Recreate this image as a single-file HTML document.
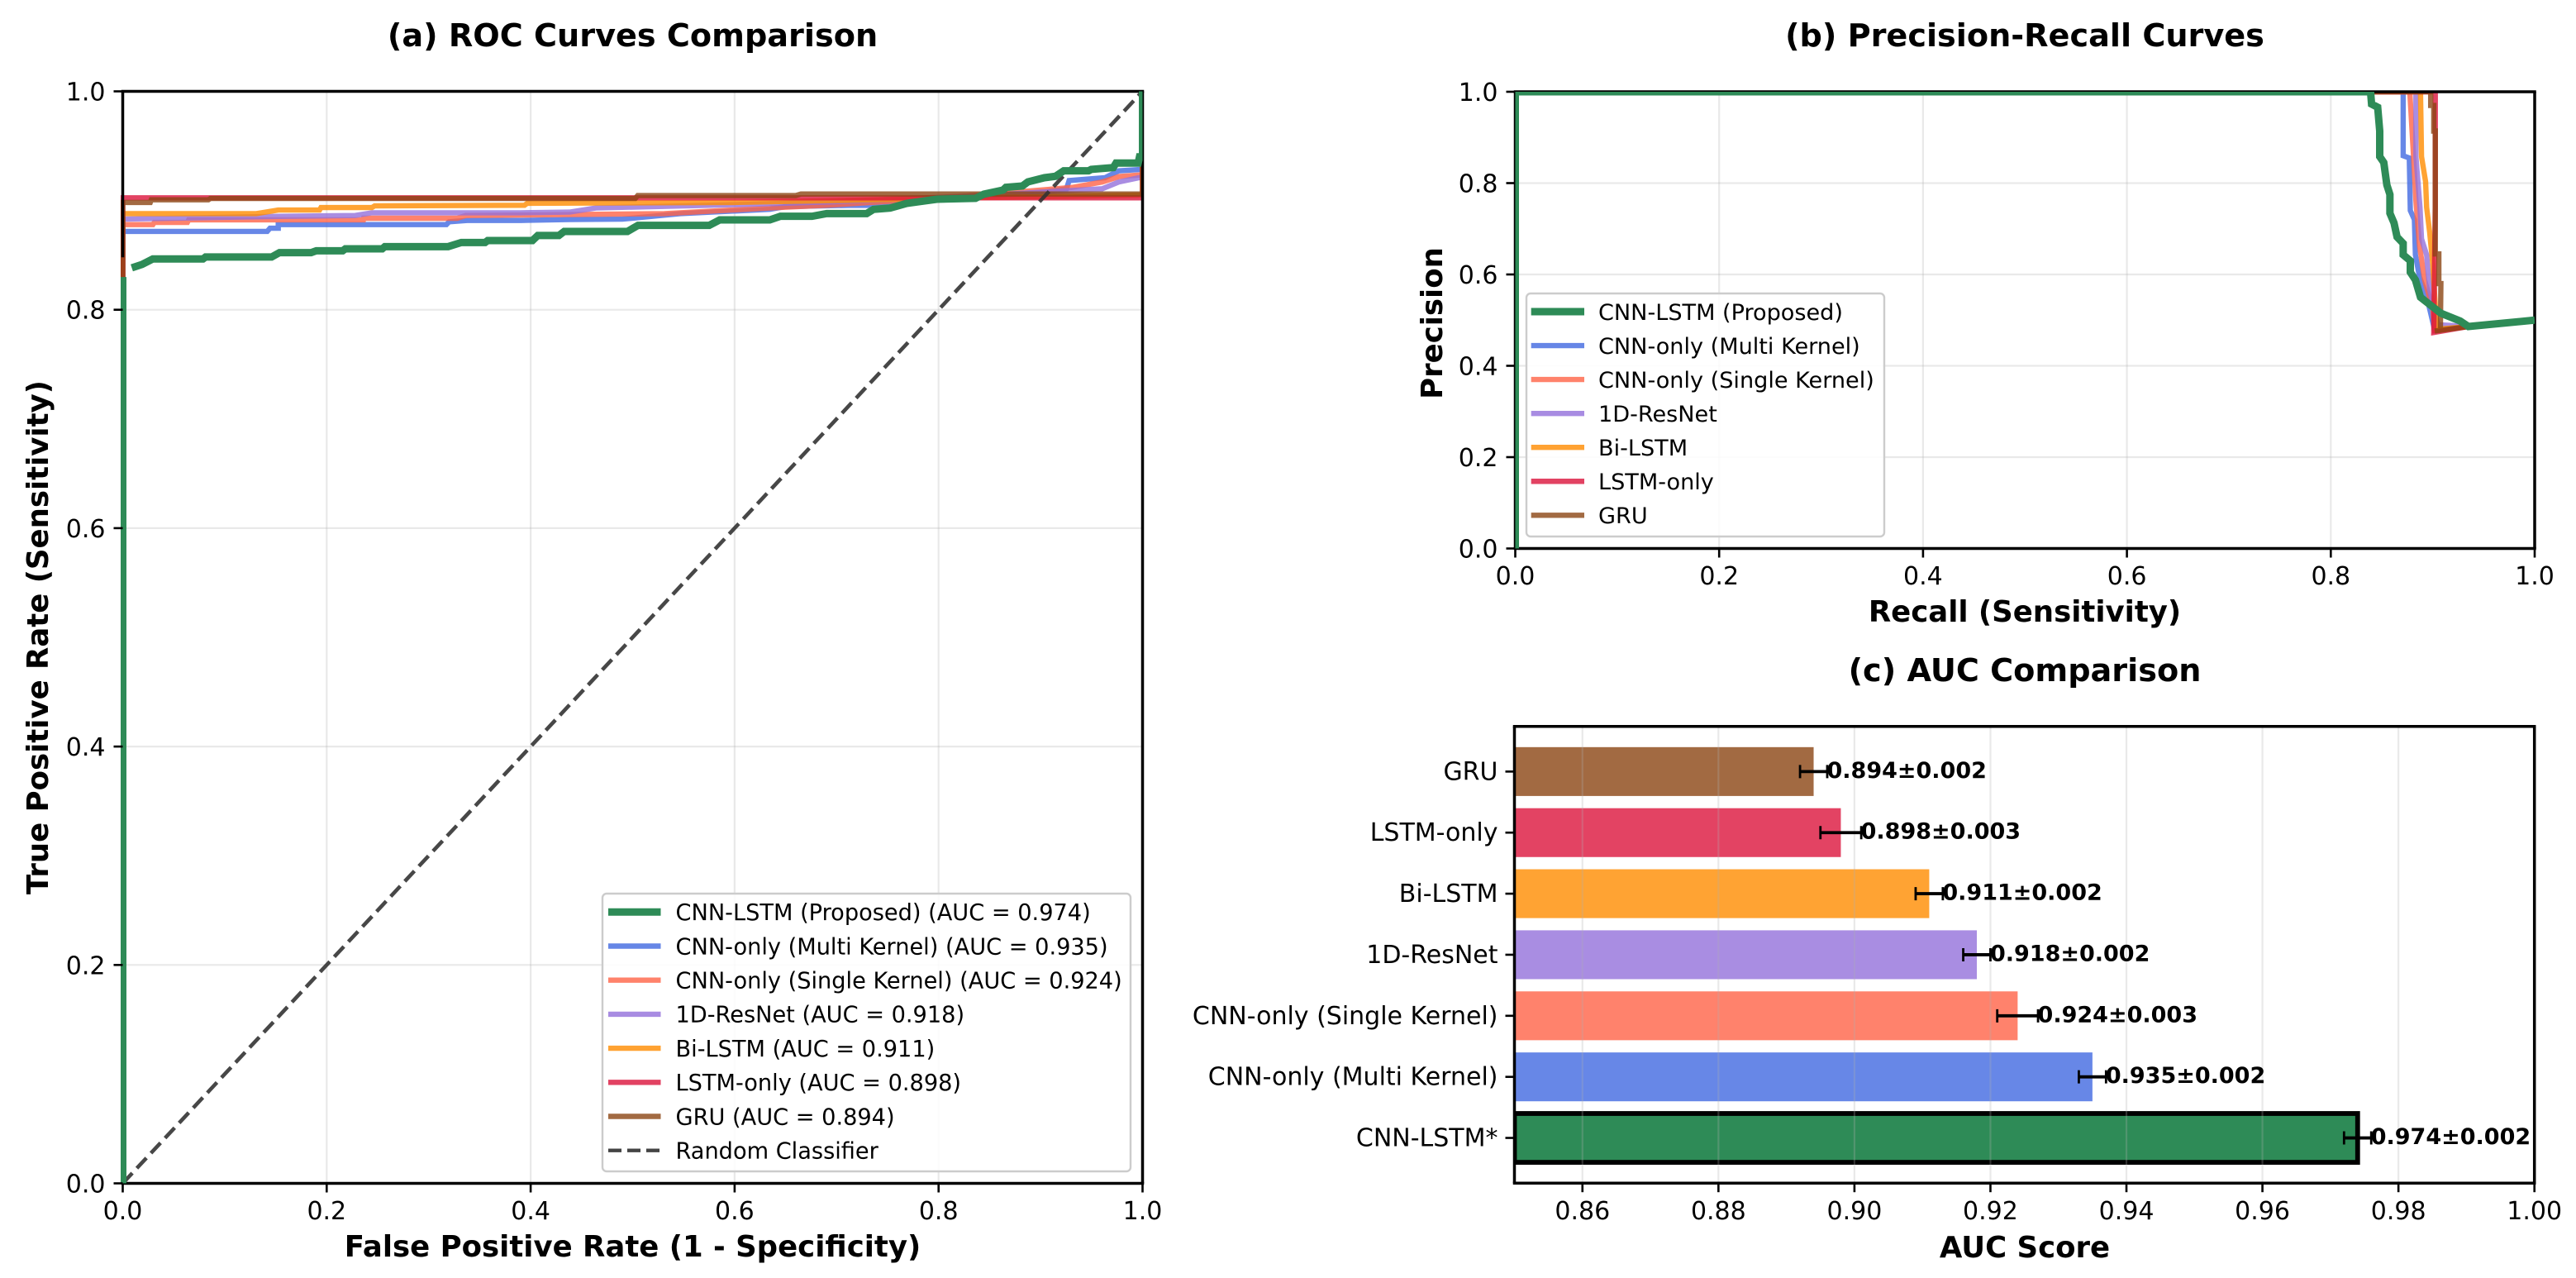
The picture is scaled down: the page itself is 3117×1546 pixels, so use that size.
<!DOCTYPE html>
<html lang="en">
<head>
<meta charset="utf-8">
<title>Model Comparison Curves</title>
<style>
html,body{margin:0;padding:0;background:#fff;}
body{width:3117px;height:1546px;overflow:hidden;}
svg{display:block;}
text{font-family:"DejaVu Sans","Liberation Sans",sans-serif;fill:#000;}
</style>
</head>
<body>
<svg id="chart" xmlns="http://www.w3.org/2000/svg" width="3117" height="1546" viewBox="0 0 3117 1546">
  <defs>
    <clipPath id="clip-roc"><rect x="146" y="110.5" width="1236.5" height="1321"/></clipPath>
    <clipPath id="clip-pr"><rect x="1833.5" y="111" width="1233.5" height="552.5"/></clipPath>
    <clipPath id="clip-auc"><rect x="1832.5" y="878.7" width="1234.2" height="552.5"/></clipPath>
  </defs>
  <rect x="0" y="0" width="3117" height="1546" fill="#fff"/>
  <g id="panel-roc"></g>
  <g id="panel-pr"></g>
  <g id="panel-auc"></g>
</svg>
<script>
// ---------- shared tick labels ----------
const unitTicks = [0, 0.2, 0.4, 0.6, 0.8, 1.0];
const unitTickLabels = ['0.0', '0.2', '0.4', '0.6', '0.8', '1.0'];
const aucTicks = [0.86, 0.88, 0.90, 0.92, 0.94, 0.96, 0.98, 1.00];
const aucTickLabels = ['0.86', '0.88', '0.90', '0.92', '0.94', '0.96', '0.98', '1.00'];

// ---------- ROC values ----------
const rocCnnLstmFpr = [0, 0, null, .0089, .019, .0295, .0787, .0812, .146, .1537, .1847, .1898, .2157, .2183, .2545, .257, .3191, .332, .3553, .3579, .4018, .407, .4277, .4329, .4949, .5053, .5751, .5854, .6345, .6449, .6759, .6903, .7295, .7362, .7525, .7687, .7849, .7984, .8362, .8443, .8632, .866, .8822, .8876, .9038, .9146, .9227, .947, .9497, .9713, .974, .9957, .997, 1, 1];
const rocCnnLstmTpr = [0, .83, null, .8384, .8415, .8465, .8465, .8483, .8483, .8523, .8523, .854, .854, .8558, .8558, .8578, .8578, .8616, .8616, .8634, .8634, .868, .868, .8717, .8717, .8773, .8773, .8823, .8823, .8856, .8856, .8881, .8881, .8919, .8931, .8974, .8995, .9012, .902, .9058, .9096, .9121, .9133, .9171, .9209, .9222, .9272, .9272, .9285, .9302, .9343, .9343, .94, .94, 1];
const rocMultiFpr = [0, 0, .1417, .1444, .1525, .1525, .3174, .32, .3377, .3904, .438, .49, .5466, .6345, .65, .712, .7305, .9065, .9254, .928, .9632, .9767, .997, 1, 1];
const rocMultiTpr = [0, .8717, .8717, .8747, .8747, .878, .878, .8805, .8818, .8818, .8826, .883, .888, .892, .8945, .8956, .8956, .9082, .9108, .9183, .9209, .9272, .9284, .9284, 1];
const rocSingleFpr = [0, 0, .0296, .031, .0634, .0647, .1363, .236, .2363, .328, .3363, .531, .6345, .69, .8, .931, .9605, .977, .997, 1, 1];
const rocSingleTpr = [0, .878, .878, .88, .88, .8823, .8823, .8823, .8838, .8838, .8863, .888, .8932, .8957, .902, .912, .917, .922, .9234, .9234, 1];
const rocResnetFpr = [0, 0, .1525, .228, .2444, .39, .438, .464, .614, .7, .85, .9605, .9767, .997, 1, 1];
const rocResnetTpr = [0, .883, .8855, .8863, .8888, .8888, .8894, .8932, .8965, .899, .905, .9108, .917, .921, .921, 1];
const rocBilstmFpr = [0, 0, .131, .1525, .193, .1944, .2444, .247, .394, .3966, .6035, .7, .8, 1, 1];
const rocBilstmTpr = [0, .888, .888, .8913, .8913, .8936, .8936, .8951, .8957, .8975, .8983, .9, .902, .905, 1];
const rocLstmFpr = [0, 0, 1, 1];
const rocLstmTpr = [0, .9025, .9025, 1];
const rocGruFpr = [0, 0, .027, .028, .084, .086, .5026, .505, .66, .665, 1, 1];
const rocGruTpr = [0, .8982, .8982, .9007, .9007, .9019, .9019, .9046, .9046, .906, .906, 1];
const randomFpr = [0, 1];
const randomTpr = [0, 1];

// ---------- Precision-recall values ----------
const prCnnLstmRecall = [0, 0, .839, .84, .846, .848, .848, .852, .855, .858, .858, .862, .865, .871, .871, .878, .878, .883, .888, .9, .908, .927, .935, 1];
const prCnnLstmPrecision = [0, 1, 1, .973, .966, .914, .858, .845, .796, .775, .734, .713, .682, .668, .643, .63, .605, .588, .55, .529, .515, .498, .486, .5];
const prMultiRecall = [0, .871, .871, .877, .878, .882, .883, .887, .894, .902, .935, 1];
const prMultiPrecision = [1, 1, .86, .855, .74, .72, .643, .595, .553, .477, .486, .5];
const prSingleRecall = [0, .8775, .881, .8835, .887, .892, .9, .902, .935, 1];
const prSinglePrecision = [1, 1, .865, .761, .664, .588, .525, .477, .486, .5];
const prResnetRecall = [0, .8835, .8835, .8875, .889, .894, .897, .905, .935, 1];
const prResnetPrecision = [1, 1, .858, .747, .678, .643, .567, .49, .486, .5];
const prBilstmRecall = [0, .888, .889, .893, .894, .897, .9, .902, .904, .935, 1];
const prBilstmPrecision = [1, 1, .858, .803, .747, .692, .623, .55, .48, .486, .5];
const prLstmRecall = [0, .9025, .9025, .901, .935, 1];
const prLstmPrecision = [1, 1, .75, .473, .486, .5];
const prGruRecall = [0, .898, .898, .901, .901, .9025, .9025, .906, .906, .908, .9075, .902, .935, 1];
const prGruPrecision = [1, 1, .97, .97, .914, .914, .645, .645, .58, .58, .478, .476, .486, .5];

// ---------- AUC bar values ----------
const aucCategories = ['CNN-LSTM*', 'CNN-only (Multi Kernel)', 'CNN-only (Single Kernel)', '1D-ResNet', 'Bi-LSTM', 'LSTM-only', 'GRU'];
const aucValues = [0.974, 0.935, 0.924, 0.918, 0.911, 0.898, 0.894];
const aucErrors = [0.002, 0.002, 0.003, 0.002, 0.002, 0.003, 0.002];

// ---------- legend text ----------
const rocLegendLabels = ['CNN-LSTM (Proposed) (AUC = 0.974)', 'CNN-only (Multi Kernel) (AUC = 0.935)', 'CNN-only (Single Kernel) (AUC = 0.924)', '1D-ResNet (AUC = 0.918)', 'Bi-LSTM (AUC = 0.911)', 'LSTM-only (AUC = 0.898)', 'GRU (AUC = 0.894)', 'Random Classifier'];
const prLegendLabels = ['CNN-LSTM (Proposed)', 'CNN-only (Multi Kernel)', 'CNN-only (Single Kernel)', '1D-ResNet', 'Bi-LSTM', 'LSTM-only', 'GRU'];

// ---------- drawing ----------
const NS = 'http://www.w3.org/2000/svg';
const FONT_TICK = 30;
const FONT_AXIS = 35.5;
const FONT_TITLE = 38.2;
const COLORS = ['#2E8B57', '#4169E1', '#FF6347', '#9370DB', '#FF8C00', '#DC143C', '#8B4513'];
const SLUGS = ['cnn-lstm', 'cnn-multi-kernel', 'cnn-single-kernel', '1d-resnet', 'bi-lstm', 'lstm-only', 'gru'];

function el(parent, tag, attrs, txt) {
  const n = document.createElementNS(NS, tag);
  for (const k in attrs) n.setAttribute(k, attrs[k]);
  if (txt !== undefined) n.textContent = txt;
  parent.appendChild(n);
  return n;
}
function sx(ax, v) { return ax.l + (v - ax.x0) / (ax.x1 - ax.x0) * (ax.r - ax.l); }
function sy(ax, v) { return ax.b - (v - ax.y0) / (ax.y1 - ax.y0) * (ax.b - ax.t); }

function pathFrom(ax, xs, ys) {
  let d = '', pen = false;
  for (let i = 0; i < xs.length; i++) {
    if (xs[i] === null || ys[i] === null) { pen = false; continue; }
    d += (pen ? 'L' : 'M') + sx(ax, xs[i]).toFixed(2) + ' ' + sy(ax, ys[i]).toFixed(2);
    pen = true;
  }
  return d;
}

function drawGrid(g, ax, xticks, yticks, opacity) {
  xticks.forEach(function (t) {
    const x = sx(ax, t);
    const ln = el(g, 'line', { x1: x, x2: x, y1: ax.t, y2: ax.b, stroke: '#b0b0b0', 'stroke-width': 2.2, opacity: opacity });
    
    
  });
  yticks.forEach(function (t) {
    const y = sy(ax, t);
    const ln = el(g, 'line', { x1: ax.l, x2: ax.r, y1: y, y2: y, stroke: '#b0b0b0', 'stroke-width': 2.2, opacity: opacity });
    
    
  });
}

function drawFrame(g, ax, leftSpineEnd) {
  const top = el(g, 'line', { x1: ax.l - 1.75, x2: ax.r + 1.75, y1: ax.t, y2: ax.t, stroke: '#000', 'stroke-width': 3.5 });
  
  
  const bottom = el(g, 'line', { x1: ax.l - 1.75, x2: ax.r + 1.75, y1: ax.b, y2: ax.b, stroke: '#000', 'stroke-width': 3.5 });
  
  
  const right = el(g, 'line', { x1: ax.r, x2: ax.r, y1: ax.t, y2: ax.b, stroke: '#000', 'stroke-width': 3.5 });
  
  
  const left = el(g, 'line', { x1: ax.l, x2: ax.l, y1: ax.t, y2: leftSpineEnd === undefined ? ax.b : leftSpineEnd, stroke: '#000', 'stroke-width': 3.5 });
  
  
}

function drawXTicks(g, ax, ticks, labels, labelY) {
  ticks.forEach(function (t, i) {
    const x = sx(ax, t);
    const tk = el(g, 'line', { x1: x, x2: x, y1: ax.b, y2: ax.b + 11, stroke: '#000', 'stroke-width': 2.6 });
    
    
    const tl = el(g, 'text', { x: x, y: labelY, 'font-size': FONT_TICK, 'text-anchor': 'middle' }, labels[i]);
    
    
  });
}

function drawYTicks(g, ax, ticks, labels) {
  ticks.forEach(function (t, i) {
    const y = sy(ax, t);
    const tk = el(g, 'line', { x1: ax.l - 11, x2: ax.l, y1: y, y2: y, stroke: '#000', 'stroke-width': 2.6 });
    
    
    const tl = el(g, 'text', { x: ax.l - 21, y: y + 11, 'font-size': FONT_TICK, 'text-anchor': 'end' }, labels[i]);
    
    
  });
}

function boldText(g, x, y, size, str, rot) {
  const a = { x: x, y: y, 'font-size': size, 'font-weight': 'bold', 'text-anchor': 'middle' };
  if (rot) a.transform = 'rotate(-90 ' + x + ' ' + y + ')';
  return el(g, 'text', a, str);
}

function drawLegend(g, box, labels, rowYs, hx1, hx2, tx, fs, dashedLast) {
  const bg = el(g, 'rect', { x: box.x, y: box.y, width: box.w, height: box.h, rx: 5, ry: 5, fill: '#fff', 'fill-opacity': .85, stroke: '#ccc', 'stroke-width': 2.4 });
  
  
  labels.forEach(function (lab, i) {
    const y = rowYs(i);
    const dashed = dashedLast && i === labels.length - 1;
    const h = el(g, 'line', {
      x1: hx1, x2: hx2, y1: y, y2: y,
      stroke: dashed ? '#444' : COLORS[i],
      'stroke-width': dashed ? 4.4 : (i === 0 ? 9 : 6.4),
      opacity: i === 0 || dashed ? 1 : .8,
      'stroke-dasharray': dashed ? '16 7' : 'none'
    });
    
    
    const t = el(g, 'text', { x: tx, y: y + fs * .36, 'font-size': fs }, lab);
    
    
  });
}

function drawCurve(g, ax, xs, ys, i, clip) {
  const p = el(g, 'path', {
    d: pathFrom(ax, xs, ys), fill: 'none', stroke: COLORS[i],
    'stroke-width': i === 0 ? 9 : 6.4, opacity: i === 0 ? 1 : .8,
    'stroke-linejoin': 'miter', 'clip-path': 'url(#' + clip + ')'
  });
  
  
}

// ---------- panel (a) ROC ----------
(function () {
  const g = document.getElementById('panel-roc');
  const ax = { l: 148.5, r: 1382.5, t: 110.5, b: 1431.5, x0: 0, x1: 1, y0: 0, y1: 1 };
  drawGrid(g, ax, unitTicks.slice(1, 5), unitTicks.slice(1, 5), .27);
  const xs = [rocCnnLstmFpr, rocMultiFpr, rocSingleFpr, rocResnetFpr, rocBilstmFpr, rocLstmFpr, rocGruFpr];
  const ys = [rocCnnLstmTpr, rocMultiTpr, rocSingleTpr, rocResnetTpr, rocBilstmTpr, rocLstmTpr, rocGruTpr];
  for (let i = 1; i < 7; i++) drawCurve(g, ax, xs[i], ys[i], i, 'clip-roc');
  const rnd = el(g, 'path', { d: pathFrom(ax, randomFpr, randomTpr), fill: 'none', stroke: '#333', 'stroke-width': 4.6, opacity: .9, 'stroke-dasharray': '17 8', 'clip-path': 'url(#clip-roc)' });
  
  
  drawFrame(g, ax, sy(ax, .848));
  drawCurve(g, ax, xs[0], ys[0], 0, 'clip-roc');
  drawXTicks(g, ax, unitTicks, unitTickLabels, 1475);
  drawYTicks(g, ax, unitTicks, unitTickLabels);
  const t = boldText(g, 765.5, 56, FONT_TITLE, '(a) ROC Curves Comparison');
  
  
  const xl = boldText(g, 765.5, 1520, FONT_AXIS, 'False Positive Rate (1 - Specificity)');
  
  
  const yl = boldText(g, 58, 771, FONT_AXIS, 'True Positive Rate (Sensitivity)', true);
  
  
  drawLegend(g, { x: 729, y: 1081, w: 639, h: 336 }, rocLegendLabels, function (i) { return 1103.3 + i * 41.2; }, 736, 799.5, 817.5, 27.2, true);
})();

// ---------- panel (b) precision-recall ----------
(function () {
  const g = document.getElementById('panel-pr');
  const ax = { l: 1833.5, r: 3067, t: 111, b: 663.5, x0: 0, x1: 1, y0: 0, y1: 1 };
  drawGrid(g, ax, unitTicks.slice(1, 5), unitTicks.slice(1, 5), .27);
  const xs = [prCnnLstmRecall, prMultiRecall, prSingleRecall, prResnetRecall, prBilstmRecall, prLstmRecall, prGruRecall];
  const ys = [prCnnLstmPrecision, prMultiPrecision, prSinglePrecision, prResnetPrecision, prBilstmPrecision, prLstmPrecision, prGruPrecision];
  for (let i = 1; i < 7; i++) drawCurve(g, ax, xs[i], ys[i], i, 'clip-pr');
  drawFrame(g, ax);
  drawCurve(g, ax, xs[0], ys[0], 0, 'clip-pr');
  drawXTicks(g, ax, unitTicks, unitTickLabels, 707);
  drawYTicks(g, ax, unitTicks, unitTickLabels);
  const t = boldText(g, 2450, 56, FONT_TITLE, '(b) Precision-Recall Curves');
  
  
  const xl = boldText(g, 2450, 752, FONT_AXIS, 'Recall (Sensitivity)');
  
  
  const yl = boldText(g, 1745, 391, FONT_AXIS, 'Precision', true);
  
  
  drawLegend(g, { x: 1847, y: 355, w: 433, h: 294 }, prLegendLabels, function (i) { return 377 + i * 41.05; }, 1852.7, 1917, 1934, 27.1, false);
})();

// ---------- panel (c) AUC bars ----------
(function () {
  const g = document.getElementById('panel-auc');
  const ax = { l: 1832.5, r: 3066.7, t: 878.7, b: 1431.2, x0: 0.85, x1: 1.0, y0: -0.74, y1: 6.74 };
  const half = 0.4;
  aucCategories.forEach(function (name, i) {
    const top = sy(ax, i + half), bot = sy(ax, i - half), right = sx(ax, aucValues[i]);
    const bar = el(g, 'rect', {
      x: ax.l, y: top, width: right - ax.l, height: bot - top, fill: COLORS[i],
      opacity: i === 0 ? 1 : .8,
      stroke: i === 0 ? '#000' : 'none', 'stroke-width': i === 0 ? 5.8 : 0,
      'clip-path': 'url(#clip-auc)'
    });
    
    
  });
  drawGrid(g, ax, aucTicks.slice(0, 7), [], .27);
  aucCategories.forEach(function (name, i) {
    const y = sy(ax, i);
    const lo = sx(ax, aucValues[i] - aucErrors[i]), hi = sx(ax, aucValues[i] + aucErrors[i]);
    const e = el(g, 'path', { d: 'M' + lo + ' ' + y + 'L' + hi + ' ' + y, fill: 'none', stroke: '#000', 'stroke-width': 3.8 });
    
    
    const c = el(g, 'path', { d: 'M' + lo + ' ' + (y - 8) + 'L' + lo + ' ' + (y + 8) + 'M' + hi + ' ' + (y - 8) + 'L' + hi + ' ' + (y + 8), fill: 'none', stroke: '#000', 'stroke-width': 2.8 });
    
    
    const v = el(g, 'text', { x: hi - 0.5, y: y + 7.5, 'font-size': 27, 'font-weight': 'bold' }, aucValues[i].toFixed(3) + '±' + aucErrors[i].toFixed(3));
    
    
    const tk = el(g, 'line', { x1: ax.l - 11, x2: ax.l, y1: y, y2: y, stroke: '#000', 'stroke-width': 2.6 });
    
    
    const tl = el(g, 'text', { x: ax.l - 20, y: y + 10, 'font-size': FONT_TICK, 'text-anchor': 'end' }, name);
    
    
  });
  drawFrame(g, ax);
  drawXTicks(g, ax, aucTicks, aucTickLabels, 1475);
  const t = boldText(g, 2450, 824, FONT_TITLE, '(c) AUC Comparison');
  
  
  const xl = boldText(g, 2450, 1521, FONT_AXIS, 'AUC Score');
  
  
})();
</script>
</body>
</html>
